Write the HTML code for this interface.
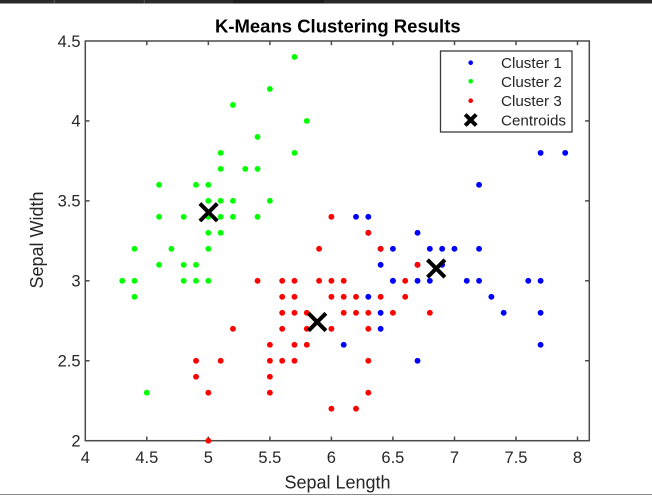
<!DOCTYPE html>
<html><head><meta charset="utf-8"><style>
html,body{margin:0;padding:0;background:#fff;}
svg{display:block;}
text{font-family:"Liberation Sans",Arial,sans-serif;fill:#262626;}
</style></head><body>
<svg width="652" height="496" viewBox="0 0 652 496" xmlns="http://www.w3.org/2000/svg">
<rect x="0" y="0" width="652" height="496" fill="#fff"/>
<rect x="0" y="0" width="652" height="3.5" fill="#2a2a2a"/>
<rect x="233" y="0" width="91" height="3.5" fill="#1c1c1c"/>
<line x1="54.3" y1="0" x2="54.3" y2="3.5" stroke="#555" stroke-width="1"/>
<line x1="144.3" y1="0" x2="144.3" y2="3.5" stroke="#555" stroke-width="1"/>
<line x1="0" y1="494.5" x2="652" y2="494.5" stroke="#8a8a8a" stroke-width="1"/>

<!-- axes box -->
<rect x="85.3" y="41" width="504" height="399.7" fill="none" stroke="#4a4a4a" stroke-width="1.5"/>
<g stroke="#4a4a4a" stroke-width="1.5">
<line x1="146.8" y1="440.7" x2="146.8" y2="436.5"/><line x1="208.35" y1="440.7" x2="208.35" y2="436.5"/><line x1="269.9" y1="440.7" x2="269.9" y2="436.5"/><line x1="331.4" y1="440.7" x2="331.4" y2="436.5"/><line x1="392.9" y1="440.7" x2="392.9" y2="436.5"/><line x1="454.5" y1="440.7" x2="454.5" y2="436.5"/><line x1="516" y1="440.7" x2="516" y2="436.5"/><line x1="577.5" y1="440.7" x2="577.5" y2="436.5"/>
<line x1="146.8" y1="41" x2="146.8" y2="45.2"/><line x1="208.35" y1="41" x2="208.35" y2="45.2"/><line x1="269.9" y1="41" x2="269.9" y2="45.2"/><line x1="331.4" y1="41" x2="331.4" y2="45.2"/><line x1="392.9" y1="41" x2="392.9" y2="45.2"/><line x1="454.5" y1="41" x2="454.5" y2="45.2"/><line x1="516" y1="41" x2="516" y2="45.2"/><line x1="577.5" y1="41" x2="577.5" y2="45.2"/>
<line x1="85.3" y1="360.75" x2="89.5" y2="360.75"/><line x1="85.3" y1="280.8" x2="89.5" y2="280.8"/><line x1="85.3" y1="200.85" x2="89.5" y2="200.85"/><line x1="85.3" y1="120.9" x2="89.5" y2="120.9"/>
<line x1="589.3" y1="360.75" x2="585.1" y2="360.75"/><line x1="589.3" y1="280.8" x2="585.1" y2="280.8"/><line x1="589.3" y1="200.85" x2="585.1" y2="200.85"/><line x1="589.3" y1="120.9" x2="585.1" y2="120.9"/>
</g>

<!-- tick labels -->
<g font-size="16.5" text-anchor="middle">
<text x="85.3" y="463">4</text><text x="146.8" y="463">4.5</text><text x="208.35" y="463">5</text><text x="269.9" y="463">5.5</text><text x="331.4" y="463">6</text><text x="392.9" y="463">6.5</text><text x="454.5" y="463">7</text><text x="516" y="463">7.5</text><text x="577.5" y="463">8</text>
</g>
<g font-size="16.5" text-anchor="end">
<text x="80.5" y="446.5">2</text><text x="80.5" y="366.5">2.5</text><text x="80.5" y="286.6">3</text><text x="80.5" y="206.6">3.5</text><text x="80.5" y="126.7">4</text><text x="80.5" y="46.8">4.5</text>
</g>

<text x="337.8" y="32.5" font-size="18.5" font-weight="bold" text-anchor="middle" style="fill:#000">K-Means Clustering Results</text>
<text x="337.5" y="488.3" font-size="18" text-anchor="middle">Sepal Length</text>
<text transform="translate(43,240) rotate(-90)" x="0" y="0" font-size="18" text-anchor="middle">Sepal Width</text>

<!-- data -->
<g transform="translate(85.3,440.7) scale(123.05,-159.9) translate(-4,-2)">
<g fill="#0000ff">
<ellipse cx="7.0" cy="3.2" rx=".0238" ry=".0183"/><ellipse cx="6.9" cy="3.1" rx=".0238" ry=".0183"/><ellipse cx="6.7" cy="3.0" rx=".0238" ry=".0183"/><ellipse cx="6.3" cy="3.3" rx=".0238" ry=".0183"/><ellipse cx="7.1" cy="3.0" rx=".0238" ry=".0183"/><ellipse cx="6.3" cy="2.9" rx=".0238" ry=".0183"/><ellipse cx="6.5" cy="3.0" rx=".0238" ry=".0183"/><ellipse cx="7.6" cy="3.0" rx=".0238" ry=".0183"/><ellipse cx="7.3" cy="2.9" rx=".0238" ry=".0183"/><ellipse cx="6.7" cy="2.5" rx=".0238" ry=".0183"/><ellipse cx="7.2" cy="3.6" rx=".0238" ry=".0183"/><ellipse cx="6.5" cy="3.2" rx=".0238" ry=".0183"/><ellipse cx="6.4" cy="2.7" rx=".0238" ry=".0183"/><ellipse cx="6.8" cy="3.0" rx=".0238" ry=".0183"/><ellipse cx="6.4" cy="3.2" rx=".0238" ry=".0183"/><ellipse cx="6.5" cy="3.0" rx=".0238" ry=".0183"/><ellipse cx="7.7" cy="3.8" rx=".0238" ry=".0183"/><ellipse cx="7.7" cy="2.6" rx=".0238" ry=".0183"/><ellipse cx="6.9" cy="3.2" rx=".0238" ry=".0183"/><ellipse cx="7.7" cy="2.8" rx=".0238" ry=".0183"/><ellipse cx="6.7" cy="3.3" rx=".0238" ry=".0183"/><ellipse cx="7.2" cy="3.2" rx=".0238" ry=".0183"/><ellipse cx="6.4" cy="2.8" rx=".0238" ry=".0183"/><ellipse cx="7.2" cy="3.0" rx=".0238" ry=".0183"/><ellipse cx="7.4" cy="2.8" rx=".0238" ry=".0183"/><ellipse cx="7.9" cy="3.8" rx=".0238" ry=".0183"/><ellipse cx="6.1" cy="2.6" rx=".0238" ry=".0183"/><ellipse cx="7.7" cy="3.0" rx=".0238" ry=".0183"/><ellipse cx="6.3" cy="3.4" rx=".0238" ry=".0183"/><ellipse cx="6.4" cy="3.1" rx=".0238" ry=".0183"/><ellipse cx="6.7" cy="3.1" rx=".0238" ry=".0183"/><ellipse cx="6.8" cy="3.2" rx=".0238" ry=".0183"/><ellipse cx="6.2" cy="3.4" rx=".0238" ry=".0183"/>
</g>
<g fill="#00ff00">
<ellipse cx="5.1" cy="3.5" rx=".0238" ry=".0183"/><ellipse cx="4.9" cy="3.0" rx=".0238" ry=".0183"/><ellipse cx="4.7" cy="3.2" rx=".0238" ry=".0183"/><ellipse cx="4.6" cy="3.1" rx=".0238" ry=".0183"/><ellipse cx="5.0" cy="3.6" rx=".0238" ry=".0183"/><ellipse cx="5.4" cy="3.9" rx=".0238" ry=".0183"/><ellipse cx="4.6" cy="3.4" rx=".0238" ry=".0183"/><ellipse cx="5.0" cy="3.4" rx=".0238" ry=".0183"/><ellipse cx="4.4" cy="2.9" rx=".0238" ry=".0183"/><ellipse cx="4.9" cy="3.1" rx=".0238" ry=".0183"/><ellipse cx="5.4" cy="3.7" rx=".0238" ry=".0183"/><ellipse cx="4.8" cy="3.4" rx=".0238" ry=".0183"/><ellipse cx="4.8" cy="3.0" rx=".0238" ry=".0183"/><ellipse cx="4.3" cy="3.0" rx=".0238" ry=".0183"/><ellipse cx="5.8" cy="4.0" rx=".0238" ry=".0183"/><ellipse cx="5.7" cy="4.4" rx=".0238" ry=".0183"/><ellipse cx="5.7" cy="3.8" rx=".0238" ry=".0183"/><ellipse cx="5.1" cy="3.8" rx=".0238" ry=".0183"/><ellipse cx="5.4" cy="3.4" rx=".0238" ry=".0183"/><ellipse cx="5.1" cy="3.7" rx=".0238" ry=".0183"/><ellipse cx="4.6" cy="3.6" rx=".0238" ry=".0183"/><ellipse cx="5.1" cy="3.3" rx=".0238" ry=".0183"/><ellipse cx="5.0" cy="3.0" rx=".0238" ry=".0183"/><ellipse cx="5.2" cy="3.5" rx=".0238" ry=".0183"/><ellipse cx="5.2" cy="3.4" rx=".0238" ry=".0183"/><ellipse cx="5.2" cy="4.1" rx=".0238" ry=".0183"/><ellipse cx="5.5" cy="4.2" rx=".0238" ry=".0183"/><ellipse cx="5.0" cy="3.2" rx=".0238" ry=".0183"/><ellipse cx="5.5" cy="3.5" rx=".0238" ry=".0183"/><ellipse cx="4.9" cy="3.6" rx=".0238" ry=".0183"/><ellipse cx="4.4" cy="3.0" rx=".0238" ry=".0183"/><ellipse cx="5.1" cy="3.4" rx=".0238" ry=".0183"/><ellipse cx="5.0" cy="3.5" rx=".0238" ry=".0183"/><ellipse cx="4.5" cy="2.3" rx=".0238" ry=".0183"/><ellipse cx="4.4" cy="3.2" rx=".0238" ry=".0183"/><ellipse cx="4.8" cy="3.1" rx=".0238" ry=".0183"/><ellipse cx="5.3" cy="3.7" rx=".0238" ry=".0183"/><ellipse cx="5.0" cy="3.3" rx=".0238" ry=".0183"/>
</g>
<g fill="#ff0000">
<ellipse cx="6.4" cy="3.2" rx=".0238" ry=".0183"/><ellipse cx="5.5" cy="2.3" rx=".0238" ry=".0183"/><ellipse cx="6.5" cy="2.8" rx=".0238" ry=".0183"/><ellipse cx="5.7" cy="2.8" rx=".0238" ry=".0183"/><ellipse cx="6.3" cy="3.3" rx=".0238" ry=".0183"/><ellipse cx="4.9" cy="2.4" rx=".0238" ry=".0183"/><ellipse cx="6.6" cy="2.9" rx=".0238" ry=".0183"/><ellipse cx="5.2" cy="2.7" rx=".0238" ry=".0183"/><ellipse cx="5.0" cy="2.0" rx=".0238" ry=".0183"/><ellipse cx="5.9" cy="3.0" rx=".0238" ry=".0183"/><ellipse cx="6.0" cy="2.2" rx=".0238" ry=".0183"/><ellipse cx="6.1" cy="2.9" rx=".0238" ry=".0183"/><ellipse cx="5.6" cy="2.9" rx=".0238" ry=".0183"/><ellipse cx="6.7" cy="3.1" rx=".0238" ry=".0183"/><ellipse cx="5.6" cy="3.0" rx=".0238" ry=".0183"/><ellipse cx="5.8" cy="2.7" rx=".0238" ry=".0183"/><ellipse cx="6.2" cy="2.2" rx=".0238" ry=".0183"/><ellipse cx="5.6" cy="2.5" rx=".0238" ry=".0183"/><ellipse cx="5.9" cy="3.2" rx=".0238" ry=".0183"/><ellipse cx="6.1" cy="2.8" rx=".0238" ry=".0183"/><ellipse cx="6.3" cy="2.5" rx=".0238" ry=".0183"/><ellipse cx="6.4" cy="2.9" rx=".0238" ry=".0183"/><ellipse cx="6.6" cy="3.0" rx=".0238" ry=".0183"/><ellipse cx="6.8" cy="2.8" rx=".0238" ry=".0183"/><ellipse cx="6.0" cy="2.9" rx=".0238" ry=".0183"/><ellipse cx="5.7" cy="2.6" rx=".0238" ry=".0183"/><ellipse cx="5.5" cy="2.4" rx=".0238" ry=".0183"/><ellipse cx="6.0" cy="2.7" rx=".0238" ry=".0183"/><ellipse cx="5.4" cy="3.0" rx=".0238" ry=".0183"/><ellipse cx="6.0" cy="3.4" rx=".0238" ry=".0183"/><ellipse cx="6.3" cy="2.3" rx=".0238" ry=".0183"/><ellipse cx="5.5" cy="2.5" rx=".0238" ry=".0183"/><ellipse cx="5.5" cy="2.6" rx=".0238" ry=".0183"/><ellipse cx="6.1" cy="3.0" rx=".0238" ry=".0183"/><ellipse cx="5.8" cy="2.6" rx=".0238" ry=".0183"/><ellipse cx="5.0" cy="2.3" rx=".0238" ry=".0183"/><ellipse cx="5.6" cy="2.7" rx=".0238" ry=".0183"/><ellipse cx="5.7" cy="3.0" rx=".0238" ry=".0183"/><ellipse cx="5.7" cy="2.9" rx=".0238" ry=".0183"/><ellipse cx="6.2" cy="2.9" rx=".0238" ry=".0183"/><ellipse cx="5.1" cy="2.5" rx=".0238" ry=".0183"/><ellipse cx="4.9" cy="2.5" rx=".0238" ry=".0183"/><ellipse cx="5.7" cy="2.5" rx=".0238" ry=".0183"/><ellipse cx="5.8" cy="2.8" rx=".0238" ry=".0183"/><ellipse cx="5.6" cy="2.8" rx=".0238" ry=".0183"/><ellipse cx="6.3" cy="2.7" rx=".0238" ry=".0183"/><ellipse cx="6.2" cy="2.8" rx=".0238" ry=".0183"/><ellipse cx="6.3" cy="2.8" rx=".0238" ry=".0183"/><ellipse cx="6.0" cy="3.0" rx=".0238" ry=".0183"/>
</g>
</g>

<!-- centroids -->
<g stroke="#000" stroke-width="4" stroke-linecap="butt">
<path d="M199.9 203.6L217.3 221M199.9 221L217.3 203.6"/>
<path d="M308.5 313.3L325.9 330.7M308.5 330.7L325.9 313.3"/>
<path d="M427.5 259.8L444.9 277.2M427.5 277.2L444.9 259.8"/>
</g>

<!-- legend -->
<rect x="440.5" y="51" width="131.5" height="81" fill="#fff" stroke="#3a3a3a" stroke-width="1.3"/>
<circle cx="470.7" cy="62.7" r="2.3" fill="#0000ff"/>
<circle cx="470.7" cy="81.3" r="2.3" fill="#00ff00"/>
<circle cx="470.7" cy="100.7" r="2.3" fill="#ff0000"/>
<path d="M465.2 114.5L476.2 125.5M465.2 125.5L476.2 114.5" stroke="#000" stroke-width="4"/>
<g font-size="15.2">
<text x="501" y="68.2">Cluster 1</text>
<text x="501" y="86.8">Cluster 2</text>
<text x="501" y="106.2">Cluster 3</text>
<text x="501" y="125.5">Centroids</text>
</g>
</svg>
</body></html>
